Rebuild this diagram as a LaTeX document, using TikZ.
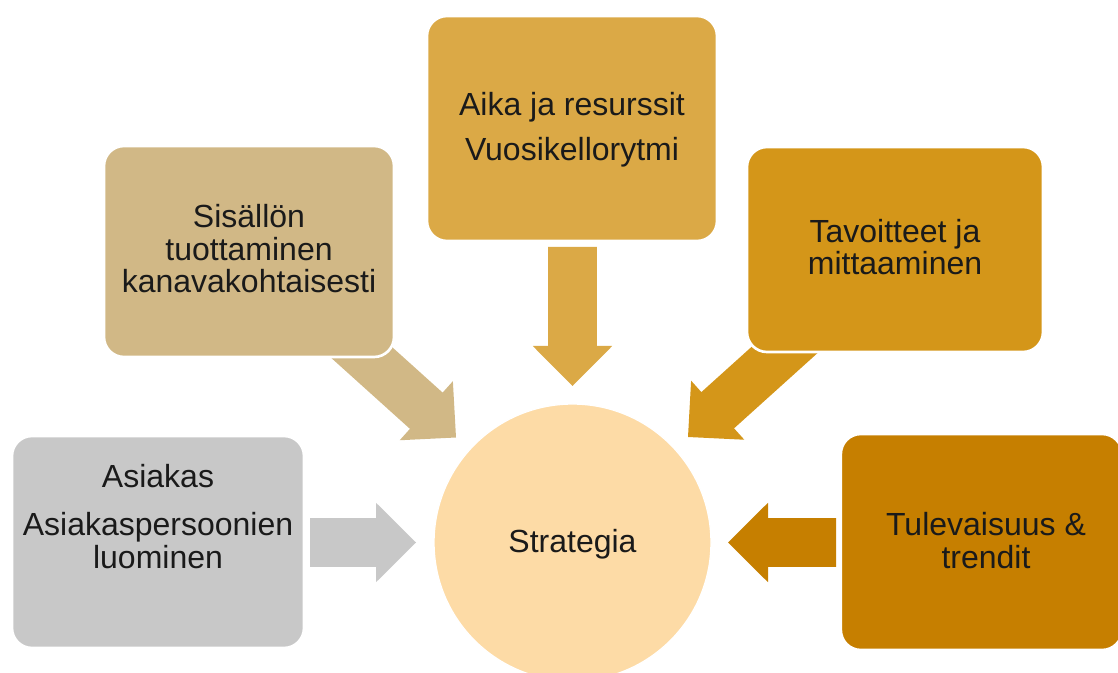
\documentclass[tikz,border=0pt]{standalone}
\usepackage{fontspec}
\setmainfont{Liberation Sans}
\usetikzlibrary{calc}
\definecolor{cgray}{HTML}{C8C8C8}
\definecolor{ctan}{HTML}{D1B886}
\definecolor{cgold}{HTML}{DBA946}
\definecolor{cora}{HTML}{D49619}
\definecolor{cdark}{HTML}{C67F00}
\definecolor{cpeach}{HTML}{FDDBA6}
\definecolor{ctext}{HTML}{1A1A1A}
\newcommand\blockarr[3]{%
  \coordinate (hb) at ($(#3)!30pt!(#2)$);
  \fill[#1] ($(#2)!18.3pt!90:(#3)$) -- ($(hb)!18.3pt!90:(#3)$) -- ($(hb)!29.8pt!90:(#3)$)
    -- (#3) -- ($(hb)!29.8pt!-90:(#3)$) -- ($(hb)!18.3pt!-90:(#3)$) -- ($(#2)!18.3pt!-90:(#3)$) -- cycle;
}
\tikzset{
  box/.style={rectangle, rounded corners=15pt, draw=white, line width=2pt, inner sep=0pt},
  lbl/.style={anchor=base, align=center, text=ctext, inner sep=0pt,
    font=\fontsize{24}{24.4}\selectfont},
}
\begin{document}
\begin{tikzpicture}[x=0.75pt,y=-0.75pt]
\useasboundingbox (0,0) rectangle (1118,673);
\clip (0,0) rectangle (1118,673);
% arrow end points
\coordinate (gA) at (310,542.5);   \coordinate (gB) at (416,542.5);
\coordinate (tA) at (340,333);     \coordinate (tB) at (456,437.5);
\coordinate (aA) at (572.5,247);   \coordinate (aB) at (572.5,386);
\coordinate (oA) at (807.7,329.1); \coordinate (oB) at (688,437);
\coordinate (dA) at (836,542.5);   \coordinate (dB) at (728,542.5);
\blockarr{cgray}{gA}{gB}
\blockarr{ctan}{tA}{tB}
\blockarr{cgold}{aA}{aB}
\blockarr{cora}{oA}{oB}
\blockarr{cdark}{dA}{dB}
% boxes
\node[box, fill=cgray, minimum width=219pt, minimum height=159pt] (asi) at (158,542) {};
\node[box, fill=ctan, minimum width=217.5pt, minimum height=158.25pt] (sis) at (249,251.5) {};
\node[box, fill=cgold, minimum width=217.5pt, minimum height=168.75pt] (aika) at (572,128.5) {};
\node[box, fill=cora, minimum width=222pt, minimum height=153.75pt] (tav) at (895,249.5) {};
\node[box, fill=cdark, minimum width=211pt, minimum height=162pt] (tul) at (981.5,542) {};
\node[circle, fill=cpeach, draw=white, line width=1pt, minimum size=207.75pt, inner sep=0pt] (str) at (572.5,542.5) {};
% texts (anchor base = baseline of the last line)
\node[lbl] (asiT) at (158,568) {Asiakas\\[11.6pt]Asiakaspersoonien\\luominen};
\node[lbl] (sisT) at (249,293) {Sisällön\\tuottaminen\\kanavakohtaisesti};
\node[lbl] (aikaT) at (572,161) {Aika ja resurssit\\[10pt]Vuosikellorytmi};
\node[lbl] (tavT) at (895,275) {Tavoitteet ja\\mittaaminen};
\node[lbl] (tulT) at (986,568) {Tulevaisuus \&\\trendit};
\node[lbl] (strT) at (572.5,552) {Strategia};
\end{tikzpicture}
\end{document}
